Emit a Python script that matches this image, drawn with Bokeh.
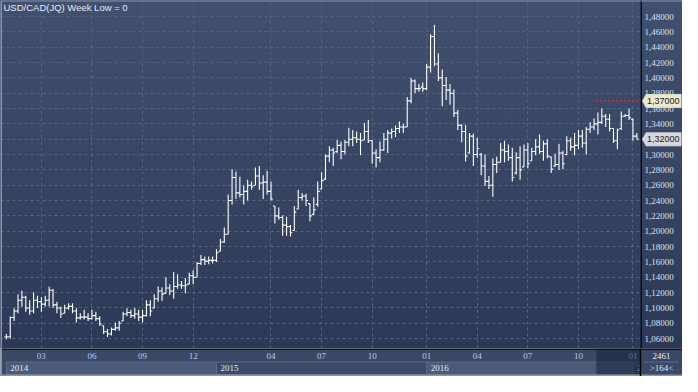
from bokeh.plotting import figure
from bokeh.layouts import column, row
from bokeh.models import (Range1d, FixedTicker, Grid, Label, PolyAnnotation, Span,
                          ColumnDataSource)
from bokeh.transform import dodge
from bokeh.embed import file_html
from bokeh.resources import INLINE

# ---------------- data (weekly USD/CAD bars) ----------------
high = [
    1.0660, 1.0890, 1.0996, 1.1180, 1.1225, 1.1160, 1.1100, 1.1200, 1.1160, 1.1140,
    1.1160, 1.1275, 1.1246, 1.1080, 1.1017, 1.1040, 1.1060, 1.1060, 1.0996, 1.0930,
    1.0975, 1.0930, 1.0975, 1.0950, 1.0890, 1.0767, 1.0725, 1.0746, 1.0810, 1.0830,
    1.0950, 1.0996, 1.0975, 1.1000, 1.0975, 1.0975, 1.1100, 1.1100, 1.1180, 1.1280,
    1.1270, 1.1400, 1.1310, 1.1470, 1.1440, 1.1350, 1.1390, 1.1460, 1.1490, 1.1600,
    1.1690, 1.1670, 1.1670, 1.1670, 1.1770, 1.1900, 1.2050, 1.2480, 1.2810, 1.2780,
    1.2710, 1.2600, 1.2670, 1.2650, 1.2830, 1.2850, 1.2730, 1.2790, 1.2650, 1.2330,
    1.2310, 1.2210, 1.2190, 1.2080, 1.2330, 1.2540, 1.2500, 1.2490, 1.2360, 1.2440,
    1.2650, 1.2770, 1.3000, 1.3110, 1.3090, 1.3190, 1.3170, 1.3190, 1.3350, 1.3320,
    1.3300, 1.3280, 1.3410, 1.3450, 1.3190, 1.3070, 1.3170, 1.3280, 1.3320, 1.3340,
    1.3380, 1.3430, 1.3400, 1.3750, 1.4000, 1.3980, 1.3920, 1.3940, 1.4180, 1.4570,
    1.4690, 1.4320, 1.4110, 1.4010, 1.3920, 1.3850, 1.3580, 1.3400, 1.3390, 1.3280,
    1.3270, 1.3220, 1.3020, 1.3000, 1.2720, 1.2950, 1.2970, 1.3150, 1.3180, 1.3130,
    1.3090, 1.3030, 1.3110, 1.3130, 1.3150, 1.3090, 1.3200, 1.3260, 1.3180, 1.3200,
    1.2970, 1.3010, 1.3140, 1.3050, 1.3240, 1.3220, 1.3280, 1.3320, 1.3320, 1.3360,
    1.3420, 1.3470, 1.3550, 1.3600, 1.3530, 1.3530, 1.3340, 1.3340, 1.3560, 1.3530,
    1.3600, 1.3470, 1.3280,
]
low = [
    1.0590, 1.0600, 1.0830, 1.0930, 1.1017, 1.0950, 1.0910, 1.0930, 1.1000, 1.0950,
    1.1020, 1.1020, 1.1000, 1.0930, 1.0870, 1.0930, 1.0975, 1.0930, 1.0810, 1.0850,
    1.0850, 1.0830, 1.0850, 1.0830, 1.0767, 1.0660, 1.0620, 1.0640, 1.0704, 1.0704,
    1.0830, 1.0890, 1.0870, 1.0860, 1.0830, 1.0810, 1.0890, 1.0890, 1.0996, 1.1080,
    1.1090, 1.1190, 1.1170, 1.1120, 1.1250, 1.1250, 1.1190, 1.1310, 1.1310, 1.1400,
    1.1560, 1.1560, 1.1570, 1.1580, 1.1600, 1.1740, 1.1850, 1.1960, 1.2350, 1.2420,
    1.2440, 1.2350, 1.2400, 1.2540, 1.2600, 1.2540, 1.2420, 1.2480, 1.2400, 1.2100,
    1.2150, 1.1940, 1.1940, 1.1930, 1.2010, 1.2290, 1.2400, 1.2330, 1.2130, 1.2220,
    1.2320, 1.2550, 1.2670, 1.2900, 1.2850, 1.3020, 1.2940, 1.3000, 1.3110, 1.3110,
    1.3150, 1.2990, 1.3190, 1.3150, 1.2880, 1.2830, 1.2900, 1.3050, 1.3020, 1.3210,
    1.3230, 1.3280, 1.3280, 1.3360, 1.3670, 1.3800, 1.3820, 1.3820, 1.3840, 1.4070,
    1.4150, 1.3960, 1.3630, 1.3710, 1.3650, 1.3490, 1.3320, 1.3160, 1.2910, 1.3020,
    1.2850, 1.2960, 1.2730, 1.2590, 1.2550, 1.2450, 1.2760, 1.2900, 1.2900, 1.2920,
    1.2650, 1.2740, 1.2670, 1.2840, 1.2820, 1.2920, 1.2990, 1.3010, 1.2920, 1.2950,
    1.2760, 1.2840, 1.2800, 1.2810, 1.2990, 1.3050, 1.2990, 1.3070, 1.3090, 1.3000,
    1.3280, 1.3320, 1.3260, 1.3400, 1.3360, 1.3300, 1.3150, 1.3070, 1.3320, 1.3490,
    1.3450, 1.3180, 1.3200,
]
open_ = [
    1.0620, 1.0625, 1.0875, 1.0960, 1.1100, 1.1140, 1.1000, 1.0960, 1.1100, 1.1080,
    1.1050, 1.1100, 1.1230, 1.1040, 1.1000, 1.0930, 1.1000, 1.1020, 1.0960, 1.0870,
    1.0880, 1.0880, 1.0860, 1.0900, 1.0860, 1.0767, 1.0690, 1.0660, 1.0720, 1.0740,
    1.0830, 1.0920, 1.0940, 1.0900, 1.0920, 1.0880, 1.0900, 1.1040, 1.1000, 1.1120,
    1.1220, 1.1190, 1.1260, 1.1220, 1.1280, 1.1300, 1.1290, 1.1310, 1.1420, 1.1400,
    1.1580, 1.1630, 1.1610, 1.1620, 1.1620, 1.1740, 1.1860, 1.1960, 1.2400, 1.2700,
    1.2500, 1.2480, 1.2520, 1.2600, 1.2600, 1.2720, 1.2630, 1.2640, 1.2520, 1.2330,
    1.2200, 1.2180, 1.2080, 1.2060, 1.2010, 1.2290, 1.2440, 1.2460, 1.2360, 1.2220,
    1.2350, 1.2550, 1.2680, 1.2980, 1.3060, 1.3040, 1.3120, 1.3040, 1.3160, 1.3200,
    1.3220, 1.3200, 1.3190, 1.3300, 1.3180, 1.3020, 1.2960, 1.3060, 1.3200, 1.3280,
    1.3300, 1.3340, 1.3360, 1.3360, 1.3700, 1.3960, 1.3860, 1.3880, 1.3860, 1.4140,
    1.4540, 1.4180, 1.4000, 1.3900, 1.3840, 1.3800, 1.3540, 1.3380, 1.3300, 1.3020,
    1.3240, 1.3000, 1.3000, 1.2850, 1.2650, 1.2600, 1.2870, 1.2900, 1.3060, 1.3040,
    1.2960, 1.2760, 1.2960, 1.2840, 1.3060, 1.2920, 1.3040, 1.3100, 1.3040, 1.3140,
    1.2970, 1.2850, 1.2870, 1.3020, 1.3000, 1.3180, 1.3100, 1.3120, 1.3240, 1.3150,
    1.3330, 1.3360, 1.3400, 1.3420, 1.3500, 1.3460, 1.3340, 1.3180, 1.3340, 1.3500,
    1.3510, 1.3460, 1.3240,
]
close = [
    1.0625, 1.0875, 1.0960, 1.1100, 1.1140, 1.1000, 1.0960, 1.1100, 1.1080, 1.1050,
    1.1100, 1.1230, 1.1040, 1.1000, 1.0920, 1.1000, 1.1020, 1.0960, 1.0870, 1.0880,
    1.0880, 1.0860, 1.0900, 1.0860, 1.0790, 1.0690, 1.0660, 1.0720, 1.0740, 1.0800,
    1.0920, 1.0940, 1.0900, 1.0920, 1.0880, 1.0900, 1.1040, 1.0960, 1.1120, 1.1220,
    1.1180, 1.1260, 1.1220, 1.1280, 1.1300, 1.1290, 1.1300, 1.1420, 1.1400, 1.1580,
    1.1630, 1.1610, 1.1620, 1.1620, 1.1720, 1.1860, 1.1960, 1.2400, 1.2700, 1.2500,
    1.2480, 1.2520, 1.2600, 1.2580, 1.2720, 1.2630, 1.2640, 1.2520, 1.2420, 1.2200,
    1.2180, 1.2080, 1.2060, 1.1980, 1.2250, 1.2440, 1.2460, 1.2400, 1.2200, 1.2280,
    1.2520, 1.2660, 1.2980, 1.3060, 1.3020, 1.3120, 1.3040, 1.3160, 1.3200, 1.3220,
    1.3200, 1.3180, 1.3300, 1.3180, 1.3020, 1.2960, 1.3060, 1.3200, 1.3280, 1.3300,
    1.3340, 1.3360, 1.3360, 1.3700, 1.3960, 1.3860, 1.3860, 1.3860, 1.4140, 1.4540,
    1.4180, 1.4000, 1.3900, 1.3840, 1.3800, 1.3540, 1.3380, 1.3300, 1.2980, 1.3240,
    1.3000, 1.3080, 1.2850, 1.2650, 1.2600, 1.2870, 1.2900, 1.3060, 1.3040, 1.2960,
    1.2700, 1.2960, 1.2800, 1.3060, 1.2880, 1.3040, 1.3100, 1.3040, 1.3140, 1.2980,
    1.2810, 1.2870, 1.3020, 1.2880, 1.3180, 1.3100, 1.3120, 1.3240, 1.3150, 1.3330,
    1.3360, 1.3400, 1.3420, 1.3500, 1.3460, 1.3340, 1.3180, 1.3320, 1.3500, 1.3510,
    1.3480, 1.3240, 1.3200,
]
bar_index = list(range(len(high)))

month_tick_idx = [9, 22, 35, 48, 68, 81, 94, 108, 121, 134, 147, 161]
month_tick_labels = ["03", "06", "09", "12", "04", "07", "10", "01", "04", "07", "10", "01"]
year_start_idx = [0, 54, 108, 161]
year_labels = ["2014", "2015", "2016", "2017"]
selection_start_idx = 151.6

y_ticks = [1.06, 1.08, 1.10, 1.12, 1.14, 1.16, 1.18, 1.20, 1.22, 1.24, 1.26,
           1.28, 1.30, 1.32, 1.34, 1.36, 1.38, 1.40, 1.42, 1.44, 1.46, 1.48]
y_tick_labels = ["1,06000", "1,08000", "1,10000", "1,12000", "1,14000", "1,16000",
                 "1,18000", "1,20000", "1,22000", "1,24000", "1,26000", "1,28000",
                 "1,30000", "1,32000", "1,34000", "1,36000", "1,38000", "1,40000",
                 "1,42000", "1,44000", "1,46000", "1,48000"]

alert_level = 1.37
alert_label = "1,37000"
alert_start_idx = 151.5
last_level = 1.32
last_label = "1,32000"
title_text = "USD/CAD(JQ) Week Low = 0"
corner_top = "2461"
corner_bottom = ">164<"

# ---------------- layout constants ----------------
W, H = 682, 376
RIGHT = 42
FRAME_W = W - RIGHT
MAIN_H = 348
STRIP_H = H - MAIN_H
X0, X1 = -1.5, 162.94
Y0, Y1 = 1.0471, 1.5009
PX_PER_UNIT = MAIN_H / (Y1 - Y0)
FONT = "Liberation Sans"
GRAD = "linear-gradient(to bottom, #425070 0%, #2c3956 100%)"
GRID_COLOR = "#56647f"
BORDER_GRAY = "#8a94a8"

# ---------------- main price panel ----------------
p = figure(width=FRAME_W, height=MAIN_H, x_range=Range1d(X0, X1), y_range=Range1d(Y0, Y1),
           x_axis_location=None, y_axis_location=None, output_backend="svg",
           toolbar_location=None, min_border=0, min_border_left=0, min_border_right=0,
           min_border_top=0, min_border_bottom=0, styles={"background": GRAD})
p.background_fill_alpha = 0
p.border_fill_alpha = 0
p.outline_line_color = None

if len(p.xgrid) == 0:
    p.add_layout(Grid(dimension=0))
if len(p.ygrid) == 0:
    p.add_layout(Grid(dimension=1))
for g in p.xgrid:
    g.ticker = FixedTicker(ticks=month_tick_idx)
for g in p.ygrid:
    g.ticker = FixedTicker(ticks=y_ticks)
for g in list(p.xgrid) + list(p.ygrid):
    g.grid_line_color = GRID_COLOR
    g.grid_line_dash = "3 3"
    g.grid_line_width = 1

src = ColumnDataSource(dict(x=bar_index, o=open_, h=high, l=low, c=close))
p.segment(x0="x", y0="l", x1="x", y1="h", source=src, line_color="white", line_width=1.1)
p.segment(x0=dodge("x", -0.5), y0="o", x1="x", y1="o", source=src, line_color="white", line_width=1.1)
p.segment(x0="x", y0="c", x1=dodge("x", 0.5), y1="c", source=src, line_color="white", line_width=1.1)

# alert level (red dotted)
p.segment(x0=[alert_start_idx], y0=[alert_level], x1=[X1], y1=[alert_level],
          line_color="#c0303c", line_dash="2 2", line_width=1.6)

p.add_layout(Span(location=X0, dimension="height", line_color=BORDER_GRAY, line_width=3))
p.add_layout(Span(location=Y1, dimension="width", line_color=BORDER_GRAY, line_width=2))

p.add_layout(Label(x=3, y=MAIN_H - 12, x_units="screen", y_units="screen", text=title_text,
                   text_font=FONT, text_font_size="9.5px", text_color="#e4eaf4"))

# ---------------- right price scale ----------------
r = figure(width=RIGHT, height=MAIN_H, x_range=Range1d(0, RIGHT), y_range=p.y_range,
           x_axis_location=None, y_axis_location=None, output_backend="svg",
           toolbar_location=None, min_border=0, min_border_left=0, min_border_right=0,
           min_border_top=0, min_border_bottom=0, styles={"background": GRAD})
r.background_fill_alpha = 0
r.border_fill_alpha = 0
r.outline_line_color = None
for g in list(r.xgrid) + list(r.ygrid):
    g.visible = False

r.text(x=[4] * len(y_ticks), y=y_ticks, text=y_tick_labels, text_align="left",
       text_baseline="middle", text_font=FONT, text_font_size="9px", text_color="#d8e0ee")
r.add_layout(Span(location=0.6, dimension="height", line_color="black", line_width=1.5))
r.add_layout(Span(location=Y1, dimension="width", line_color=BORDER_GRAY, line_width=2))

hh = 7 / PX_PER_UNIT
for lvl, txt, fill in [(alert_level, alert_label, "#ece7cf"), (last_level, last_label, "#d5d9de")]:
    r.add_layout(PolyAnnotation(
        xs=[1.5, 5.5, 41, 41, 5.5],
        ys=[lvl, lvl + hh, lvl + hh, lvl - hh, lvl - hh],
        xs_units="data", ys_units="data", fill_color=fill, fill_alpha=1,
        line_color="#8d8a78", line_width=1))
    r.add_layout(Label(x=6.5, y=lvl, x_units="data", y_units="data", text=txt,
                       text_font=FONT, text_font_size="9px", text_color="#1b1b1b",
                       text_baseline="middle"))

# ---------------- bottom date strip ----------------
XS1 = X0 + (X1 - X0) * W / FRAME_W
b = figure(width=W, height=STRIP_H, x_range=Range1d(X0, XS1), y_range=Range1d(0, 29),
           x_axis_location=None, y_axis_location=None, output_backend="svg",
           toolbar_location=None, min_border=0, min_border_left=0, min_border_right=0,
           min_border_top=0, min_border_bottom=0,
           background_fill_color="#3a4866", border_fill_color="#3a4866")
b.outline_line_color = None
for g in list(b.xgrid) + list(b.ygrid):
    g.visible = False

band_right = year_start_idx[1:] + [X1]
band_colors = ["#4b5a78", "#3c4a68", "#4b5a78", "#3c4a68"]
b.quad(left=year_start_idx, right=band_right, bottom=2, top=15, fill_color=band_colors,
       line_color="#5c6b89", line_width=1)
b.text(x=month_tick_idx, y=21, text=month_tick_labels, text_align="center",
       text_baseline="middle", text_font=FONT, text_font_size="9px", text_color="#b8cbe8")
b.text(x=year_start_idx, y=8.5, text=year_labels, x_offset=4, text_align="left",
       text_baseline="middle", text_font=FONT, text_font_size="9px", text_color="#e2e8f2")
b.quad(left=[selection_start_idx], right=[X1], bottom=2, top=29, fill_color="#18203a",
       fill_alpha=0.55, line_color=None)
# corner panel
b.quad(left=[X1], right=[XS1], bottom=0, top=29, fill_color="#3a4866", line_color=None)
b.segment(x0=[X1 + 1], y0=[15], x1=[XS1 - 1], y1=[15], line_color="#5c6b89", line_width=1)
b.text(x=[(X1 + XS1) / 2] * 2, y=[21, 8.5], text=[corner_top, corner_bottom],
       text_align="center", text_baseline="middle", text_font=FONT, text_font_size="9px",
       text_color="#e2e8f2")
b.quad(left=[X0], right=[XS1], bottom=0, top=2, fill_color=BORDER_GRAY, line_color=None)
b.add_layout(Span(location=X1, dimension="height", line_color="black", line_width=1.5))
b.add_layout(Span(location=28.6, dimension="width", line_color="black", line_width=1.5))
b.add_layout(Span(location=X0, dimension="height", line_color=BORDER_GRAY, line_width=3))

layout = column(row(p, r, spacing=0), b, spacing=0)
open("out.html", "w").write(file_html(layout, INLINE))
